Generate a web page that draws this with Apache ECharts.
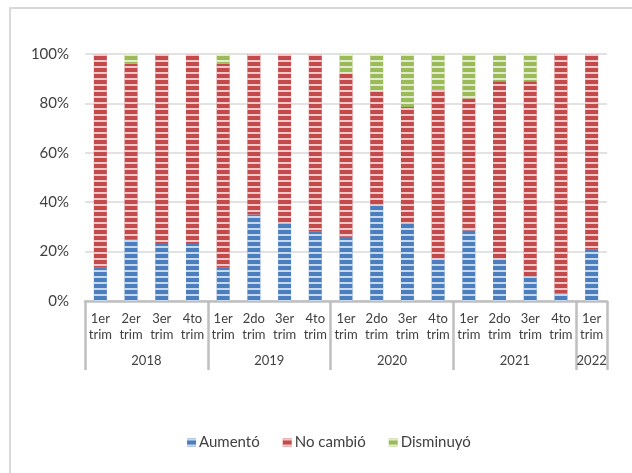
<!DOCTYPE html>
<html>
<head>
<meta charset="utf-8">
<script src="https://cdn.jsdelivr.net/npm/echarts@6/dist/echarts.min.js"></script>
<style>
  html, body { margin: 0; padding: 0; background: #ffffff; }
  #wrap { position: relative; width: 632px; height: 473px; }
  #frame { position: absolute; left: 9px; top: 7px; right: -4px; bottom: -4px; border-left: 2px solid #d9d9d9; border-top: 2px solid #d9d9d9; pointer-events: none; }
  #chart { position: absolute; left: 0; top: 0; width: 632px; height: 473px; }
</style>
</head>
<body>
<div id="wrap">
  <div id="chart"></div>
  <div id="frame"></div>
</div>
<script>
// ---- Data ----
const quarters = [
  '1er\ntrim', '2er\ntrim', '3er\ntrim', '4to\ntrim',
  '1er\ntrim', '2do\ntrim', '3er\ntrim', '4to\ntrim',
  '1er\ntrim', '2do\ntrim', '3er\ntrim', '4to\ntrim',
  '1er\ntrim', '2do\ntrim', '3er\ntrim', '4to\ntrim',
  '1er\ntrim'
];
const years = ['2018', '2019', '2020', '2021', '2022'];
const yearSizes = [4, 4, 4, 4, 1];
const aumento    = [13.5, 25, 23.5, 23.5, 13.5, 35, 31.5, 28, 26, 39, 31.5, 17, 28.5, 17, 10, 3, 21];
const disminuyo  = [0, 4, 0, 0, 4, 0, 0, 0, 8, 15, 21.5, 14.5, 18, 11, 11, 0, 0];
const noCambio   = [86.5, 71, 76.5, 76.5, 82.5, 65, 68.5, 72, 66, 46, 47, 68.5, 53.5, 72, 79, 97, 79];
const seriesNames = ['Aumentó', 'No cambió', 'Disminuyó'];

// ---- Derived group boundaries / centers for the year level ----
const yearBounds = [0];
yearSizes.forEach(s => yearBounds.push(yearBounds[yearBounds.length - 1] + s));
const yearCenters = years.map((y, i) => (yearBounds[i] + yearBounds[i + 1]) / 2);

const colors = ['#4A7EBF', '#C3494B', '#9BBB59'];
const decal = {
  symbol: 'rect',
  symbolSize: 1,
  dashArrayX: [1, 0],
  dashArrayY: [1.3, 3.2],
  color: 'rgba(255,255,255,0.7)'
};
const txt = '#404040';
const font = 'Lato, "Open Sans", sans-serif';

const chart = echarts.init(document.getElementById('chart'), null, { renderer: 'canvas' });

function barSeries(name, data, color) {
  return {
    name: name,
    type: 'bar',
    stack: 'total',
    xAxisIndex: 0,
    yAxisIndex: 0,
    barWidth: 13,
    data: data,
    itemStyle: { color: color, decal: decal },
    emphasis: { disabled: true }
  };
}

chart.setOption({
  animation: false,
  color: colors,
  textStyle: { fontFamily: font },
  grid: { left: 85, right: 25, top: 54, bottom: 172, containLabel: false },
  legend: {
    data: seriesNames,
    top: 430,
    left: 182,
    icon: 'rect',
    itemWidth: 9,
    itemHeight: 8,
    itemGap: 23,
    textStyle: { color: txt, fontSize: 15, fontFamily: font, padding: [0, 0, 0, -2] }
  },
  xAxis: [
    {
      type: 'category',
      data: quarters,
      position: 'bottom',
      axisLine: { show: false },
      axisTick: { show: false },
      axisLabel: {
        interval: 0,
        margin: 10,
        color: txt,
        fontSize: 13,
        lineHeight: 16,
        fontFamily: font
      },
      splitLine: { show: false }
    },
    {
      type: 'value',
      min: 0,
      max: quarters.length,
      position: 'bottom',
      axisLine: { show: true, lineStyle: { color: '#bfbfbf', width: 2.5 } },
      axisTick: {
        show: true,
        customValues: yearBounds,
        length: 69,
        lineStyle: { color: '#bfbfbf', width: 2.5 }
      },
      axisLabel: {
        customValues: yearCenters,
        margin: 53,
        color: txt,
        fontSize: 13,
        fontFamily: font,
        formatter: function (v) {
          const i = yearCenters.findIndex(c => Math.abs(c - v) < 1e-6);
          return i >= 0 ? years[i] : '';
        }
      },
      splitLine: { show: false }
    }
  ],
  yAxis: {
    type: 'value',
    min: 0,
    max: 100,
    interval: 20,
    axisLine: { show: false },
    axisTick: { show: false },
    axisLabel: {
      color: txt,
      fontSize: 15,
      margin: 16,
      fontFamily: font,
      formatter: '{value}%'
    },
    splitLine: { lineStyle: { color: '#d9d9d9', width: 1.5 } }
  },
  series: [
    barSeries(seriesNames[0], aumento, colors[0]),
    barSeries(seriesNames[1], noCambio, colors[1]),
    barSeries(seriesNames[2], disminuyo, colors[2])
  ]
});
</script>
</body>
</html>
